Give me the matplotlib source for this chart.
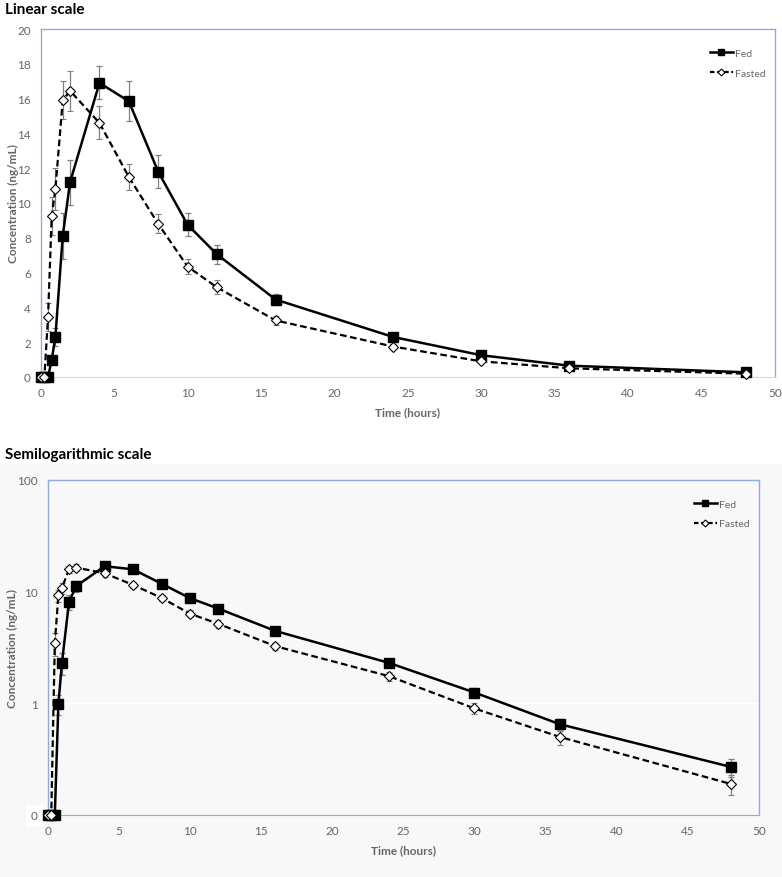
import numpy as np
import matplotlib.pyplot as plt
from matplotlib.patches import Rectangle
from matplotlib.lines import Line2D

plt.rcParams['font.family'] = ['Lato', 'DejaVu Sans']

# Время отбора проб, ч
time = [0, 0.25, 0.5, 0.75, 1, 1.5, 2, 4, 6, 8, 10, 12, 16, 24, 30, 36, 48]

# Концентрация, нг/мл (среднее и ошибка)
fed = [0, 0, 0, 0.98, 2.3, 8.1, 11.2, 16.9, 15.85, 11.8, 8.75, 7.05, 4.45, 2.3, 1.25, 0.65, 0.27]
fed_err = [0, 0, 0, 0.2, 0.5, 1.3, 1.3, 0.95, 1.15, 0.95, 0.65, 0.55, 0.3, 0.2, 0.12, 0.08, 0.05]
fasted = [0, 0, 3.45, 9.26, 10.8, 15.9, 16.45, 14.6, 11.5, 8.8, 6.35, 5.15, 3.25, 1.75, 0.9, 0.5, 0.19]
fasted_err = [0, 0, 0.8, 1.1, 1.2, 1.1, 1.15, 0.95, 0.75, 0.55, 0.45, 0.4, 0.25, 0.15, 0.1, 0.08, 0.04]

xticks = [0, 5, 10, 15, 20, 25, 30, 35, 40, 45, 50]
lin_yticks = [0, 2, 4, 6, 8, 10, 12, 14, 16, 18, 20]
log_yticks = [0.1, 1, 10, 100]
log_ylabels = ['0', '1', '10', '100']

blue = '#8faadc'
grey_txt = '#666666'
err_col = '#808080'

W, H = 782, 878
fig = plt.figure(figsize=(W / 100, H / 100), dpi=100)

# серый фон нижней диаграммы
fig.patches.append(Rectangle((0, 0), 1, (H - 465) / H, transform=fig.transFigure,
                             facecolor='#f8f8f8', edgecolor='none', zorder=-5))


def box(l, t, r, b):
    return [l / W, 1 - b / H, (r - l) / W, (b - t) / H]


def draw(ax, fed_v, fasted_v, ms_sq, ms_d):
    ax.errorbar(time, fed_v, yerr=fed_err, color='black', lw=1.8, marker='s', ms=ms_sq,
                mfc='black', mec='black', ecolor=err_col, elinewidth=0.9, capsize=2.5,
                capthick=0.9, zorder=4, clip_on=False)
    ax.errorbar(time, fasted_v, yerr=fasted_err, color='black', lw=1.6, ls=(0, (3, 1.6)),
                marker='D', ms=ms_d, mfc='white', mec='black', mew=0.8, ecolor=err_col,
                elinewidth=0.9, capsize=2.5, capthick=0.9, zorder=5, clip_on=False)
    ax.set_xlim(0, 50)
    ax.set_xticks(xticks)
    ax.tick_params(length=0, labelsize=8.5, labelcolor=grey_txt, pad=7)
    for s in ['left', 'right', 'top']:
        ax.spines[s].set_color(blue)
        ax.spines[s].set_linewidth(1)
    ax.set_xlabel('Time (hours)', fontsize=8.5, color=grey_txt, fontweight='bold', labelpad=6)
    ax.set_ylabel('Concentration (ng/mL)', fontsize=8.5, color=grey_txt, fontweight='bold')
    handles = [Line2D([], [], color='black', lw=1.8, marker='s', ms=4),
               Line2D([], [], color='black', lw=1.6, ls=(0, (2, 1.2)), marker='D', ms=3.5,
                      mfc='white', mew=0.8)]
    ax.legend(handles, ['Fed', 'Fasted'], frameon=False, fontsize=7.5, labelcolor=grey_txt,
              handlelength=2.2, handletextpad=0.2, labelspacing=1.0,
              loc='upper right', bbox_to_anchor=(1.0, 0.97))


# Линейная шкала
ax1 = fig.add_axes(box(40.7, 30, 775, 378))
draw(ax1, fed, fasted, 7, 5.5)
ax1.set_ylim(0, 20)
ax1.set_yticks(lin_yticks)
ax1.spines['bottom'].set_color('#d9d9d9')
ax1.yaxis.set_label_coords(-0.03, 0.5)
fig.text(5 / W, 1 - 10 / H, 'Linear scale', fontsize=11, fontweight='bold', va='center')

# Полулогарифмическая шкала (нули показаны на нижней границе)
ax2 = fig.add_axes(box(47.7, 481, 759, 816))
ax2.set_facecolor('#f8f8f8')
ax2.set_yscale('log')
ax2.set_ylim(0.1, 100)
fed_log = np.clip(fed, 0.1, None)
fasted_log = np.clip(fasted, 0.1, None)
draw(ax2, fed_log, fasted_log, 6.5, 5)
ax2.set_yticks(log_yticks)
ax2.set_yticklabels(log_ylabels)
ax2.yaxis.set_minor_locator(plt.NullLocator())
ax2.spines['bottom'].set_color(blue)
ax2.axhline(1, color='white', lw=1, zorder=1)
ax2.yaxis.set_label_coords(-0.042, 0.5)
ax2.get_yticklabels()[0].set_bbox(dict(facecolor='white', edgecolor='none', pad=4))
fig.text(5 / W, 1 - 455 / H, 'Semilogarithmic scale', fontsize=11, fontweight='bold', va='center')

fig.savefig('out.png', dpi=100)
